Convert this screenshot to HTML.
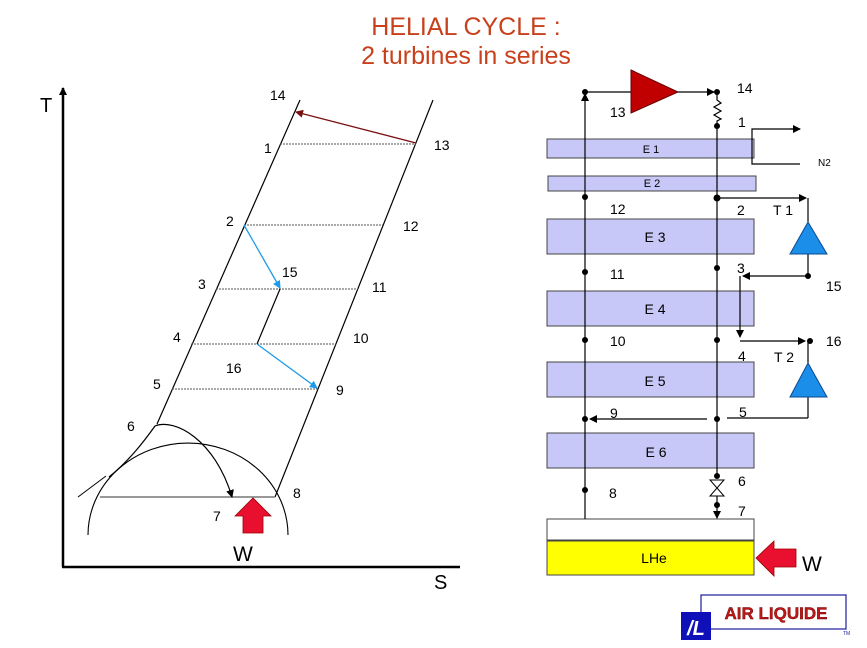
<!DOCTYPE html>
<html><head><meta charset="utf-8"><style>
body{margin:0;background:#fff;width:867px;height:643px;overflow:hidden}
svg text{font-family:"Liberation Sans",sans-serif}
</style></head><body>
<svg width="867" height="643" viewBox="0 0 867 643" xmlns="http://www.w3.org/2000/svg">
<defs>
<marker id="a" markerWidth="8" markerHeight="8" refX="7" refY="4" orient="auto" markerUnits="userSpaceOnUse"><path d="M0,0 L8,4 L0,8 Z" fill="#000"/></marker>
<marker id="ab" markerWidth="8" markerHeight="8" refX="7" refY="4" orient="auto" markerUnits="userSpaceOnUse"><path d="M0,0 L8,4 L0,8 Z" fill="#1e9be8"/></marker>
<marker id="ar" markerWidth="8" markerHeight="8" refX="7" refY="4" orient="auto" markerUnits="userSpaceOnUse"><path d="M0,0 L8,4 L0,8 Z" fill="#7a1010"/></marker>
</defs>
<text x="466" y="35" font-size="25" fill="#c8401c" text-anchor="middle">HELIAL CYCLE :</text>
<text x="466" y="64" font-size="25" fill="#c8401c" text-anchor="middle">2 turbines in series</text>

<!-- T-S diagram -->
<line x1="63" y1="567" x2="63" y2="88" stroke="#000" stroke-width="2.5" marker-end="url(#a)"/>
<line x1="62" y1="567" x2="460" y2="567" stroke="#000" stroke-width="2.5"/>
<text x="40" y="112" font-size="20">T</text>
<text x="434" y="589" font-size="20">S</text>
<line x1="300" y1="100" x2="157" y2="424" stroke="#000" stroke-width="1.2"/>
<line x1="433" y1="100" x2="275" y2="497" stroke="#000" stroke-width="1.2"/>
<g stroke="#555" stroke-dasharray="2,1" stroke-width="1">
<line x1="280" y1="144" x2="416" y2="144"/>
<line x1="244" y1="225" x2="383" y2="225"/>
<line x1="216" y1="289" x2="358" y2="289"/>
<line x1="191" y1="344" x2="336" y2="344"/>
<line x1="172" y1="389" x2="318" y2="389"/>
</g>
<line x1="416" y1="143" x2="296" y2="112" stroke="#7a1010" stroke-width="1.3" marker-end="url(#ar)"/>
<line x1="244" y1="225" x2="280" y2="288" stroke="#1e9be8" stroke-width="1.3" marker-end="url(#ab)"/>
<line x1="280" y1="289" x2="257" y2="344" stroke="#000" stroke-width="1.2"/>
<line x1="257" y1="344" x2="317" y2="388" stroke="#1e9be8" stroke-width="1.3" marker-end="url(#ab)"/>
<path d="M88,535 A100,92 0 0 1 288,535" fill="none" stroke="#000" stroke-width="1.1"/>
<line x1="100" y1="497" x2="275" y2="497" stroke="#777" stroke-width="1.5"/>
<path d="M109,477 C130,460 145,440 155,426 C175,418 215,440 232,497" fill="none" stroke="#000" stroke-width="1.2" marker-end="url(#a)"/>
<line x1="78" y1="497" x2="106" y2="476" stroke="#000" stroke-width="1"/>
<path d="M235,516 L253,498 L271,516 L263,516 L263,533 L243,533 L243,516 Z" fill="#e8102e" stroke="#900" stroke-width="0.8"/>
<text x="233" y="561" font-size="21">W</text>
<g font-size="14">
<text x="270" y="100">14</text><text x="264" y="153">1</text><text x="434" y="150">13</text>
<text x="226" y="226">2</text><text x="403" y="231">12</text>
<text x="198" y="289">3</text><text x="282" y="277">15</text><text x="372" y="292">11</text>
<text x="173" y="342">4</text><text x="353" y="343">10</text>
<text x="226" y="373">16</text><text x="153" y="389">5</text><text x="336" y="395">9</text>
<text x="127" y="431">6</text><text x="293" y="498">8</text><text x="213" y="521">7</text>
</g>

<!-- Flow diagram -->
<g fill="#c8c8f8" stroke="#444" stroke-width="1">
<rect x="547" y="139" width="207" height="19"/>
<rect x="548" y="176" width="208" height="15"/>
<rect x="547" y="219" width="207" height="35"/>
<rect x="547" y="291" width="207" height="35"/>
<rect x="547" y="362" width="207" height="35"/>
<rect x="547" y="433" width="207" height="35"/>
</g>
<rect x="547" y="519" width="207" height="21" fill="#fff" stroke="#444"/>
<rect x="547" y="541" width="207" height="34" fill="#ffff00" stroke="#444"/>
<g font-size="11" text-anchor="middle"><text x="651" y="153">E 1</text><text x="652" y="187">E 2</text></g>
<g font-size="14" text-anchor="middle"><text x="655" y="242">E 3</text><text x="655" y="314">E 4</text><text x="655" y="386">E 5</text><text x="656" y="457">E 6</text><text x="654" y="563">LHe</text></g>
<g stroke="#000" stroke-width="1.2" fill="none">
<line x1="585" y1="519" x2="585" y2="94" marker-end="url(#a)"/>
<line x1="585" y1="92" x2="632" y2="92"/>
<line x1="676" y1="92" x2="714" y2="92" marker-end="url(#a)"/>
<path d="M717,92 L717,100 L721,103 L714,107 L721,111 L714,115 L721,119 L717,121 L717,125"/>
<line x1="717" y1="125" x2="717" y2="476"/>
<line x1="717" y1="496" x2="717" y2="518" marker-end="url(#a)"/>
<path d="M800,129 L752,129 L752,164 L800,164" />
<line x1="790" y1="129" x2="800" y2="129" marker-end="url(#a)"/>
<line x1="717" y1="198" x2="806" y2="198" marker-end="url(#a)"/>
<line x1="808" y1="198" x2="808" y2="222"/>
<line x1="808" y1="254" x2="808" y2="276"/>
<line x1="808" y1="276" x2="743" y2="276" marker-end="url(#a)"/>
<line x1="740" y1="276" x2="740" y2="337" marker-end="url(#a)"/>
<line x1="740" y1="341" x2="805" y2="341" marker-end="url(#a)"/>
<line x1="808" y1="341" x2="808" y2="363"/>
<line x1="808" y1="397" x2="808" y2="418"/>
<line x1="808" y1="418" x2="727" y2="418"/>
<line x1="707" y1="419" x2="590" y2="419" marker-end="url(#a)"/>
</g>
<path d="M631,70 L678,92 L631,113 Z" fill="#c00000" stroke="#600" stroke-width="1"/>
<path d="M808,222 L827,254 L790,254 Z" fill="#1a8ee8" stroke="#0a4a90" stroke-width="1"/>
<path d="M808,363 L827,397 L790,397 Z" fill="#1a8ee8" stroke="#0a4a90" stroke-width="1"/>
<path d="M710,480 L724,480 L710,496 L724,496 Z" fill="#fff" stroke="#000" stroke-width="1"/>
<g fill="#000">
<circle cx="585" cy="92" r="3"/><circle cx="585" cy="197" r="3"/><circle cx="585" cy="272" r="3"/><circle cx="585" cy="340" r="3"/><circle cx="585" cy="419" r="3"/><circle cx="585" cy="490" r="3"/>
<circle cx="717" cy="92" r="3"/><circle cx="717" cy="126" r="3"/><circle cx="717" cy="198" r="3.5"/><circle cx="717" cy="268" r="3"/><circle cx="717" cy="340" r="3"/><circle cx="717" cy="419" r="3"/><circle cx="717" cy="476" r="3"/><circle cx="717" cy="505" r="3"/>
<circle cx="808" cy="276" r="3"/><circle cx="810" cy="341" r="3"/>
</g>
<path d="M756,558 L774,541 L774,549 L796,549 L796,567 L774,567 L774,576 Z" fill="#e8102e" stroke="#900" stroke-width="0.8"/>
<text x="802" y="571" font-size="21">W</text>
<g font-size="14">
<text x="737" y="93">14</text><text x="610" y="117">13</text><text x="738" y="127">1</text>
<text x="610" y="214">12</text><text x="737" y="215">2</text><text x="773" y="215">T 1</text>
<text x="610" y="279">11</text><text x="737" y="273">3</text><text x="826" y="291">15</text>
<text x="610" y="346">10</text><text x="738" y="361">4</text><text x="774" y="362">T 2</text><text x="826" y="346">16</text>
<text x="610" y="418">9</text><text x="739" y="417">5</text>
<text x="609" y="498">8</text><text x="738" y="486">6</text><text x="738" y="516">7</text>
</g>
<text x="818" y="166" font-size="10" font-family="Liberation Serif">N2</text>
<!-- logo -->
<rect x="701" y="595" width="145" height="34" fill="#fff" stroke="#1b1b9a" stroke-width="1.2"/>
<text x="776" y="619" font-size="17" font-weight="bold" fill="#c01818" text-anchor="middle" stroke="#600" stroke-width="0.4">AIR LIQUIDE</text>
<rect x="681" y="612" width="30" height="28" fill="#1010b8"/>
<text x="696" y="635" font-size="20" font-weight="bold" font-style="italic" fill="#fff" text-anchor="middle">/L</text>
<text x="843" y="635" font-size="5" fill="#1b1b9a">TM</text>
</svg>
</body></html>
